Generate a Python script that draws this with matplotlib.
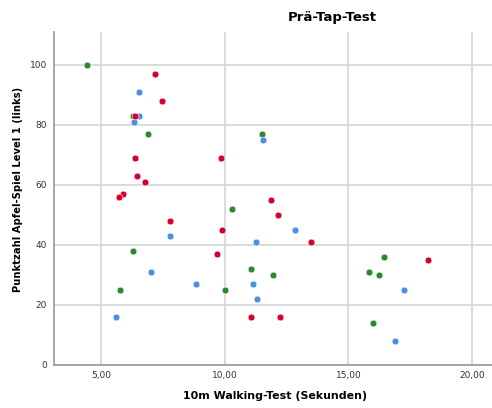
import numpy as np
import matplotlib
matplotlib.use('Agg')
import matplotlib.pyplot as plt

# 10m walking test (s) vs. score, by group
green_x = [4.43, 6.31, 6.91, 11.50, 10.28, 6.31, 5.77, 10.00, 11.05, 11.94, 15.82, 16.23, 16.42, 15.98]
green_y = [100, 83, 77, 77, 52, 38, 25, 25, 32, 30, 31, 30, 36, 14]

red_x = [7.19, 7.46, 6.37, 6.37, 9.84, 6.45, 6.78, 5.90, 5.73, 7.79, 9.90, 9.70,
         11.88, 12.14, 13.48, 18.21, 11.05, 12.22]
red_y = [97, 88, 83, 69, 69, 63, 61, 57, 56, 48, 45, 37, 55, 50, 41, 35, 16, 16]

blue_x = [6.55, 6.52, 6.33, 11.53, 7.79, 12.84, 11.27, 7.03, 8.85, 5.59, 11.13, 11.32, 17.23, 16.89]
blue_y = [91, 83, 81, 75, 43, 45, 41, 31, 27, 16, 27, 22, 25, 8]

xticks = [5, 10, 15, 20]
xtick_labels = ['5,00', '10,00', '15,00', '20,00']
yticks = [0, 20, 40, 60, 80, 100]

fig = plt.figure(figsize=(4.92, 4.08), dpi=100)
ax = fig.add_axes([0.1098, 0.1054, 0.8902, 0.8162])

for xs, ys, c in [(green_x, green_y, '#2a8a2a'),
                  (blue_x, blue_y, '#4a90e2'),
                  (red_x, red_y, '#d6002c')]:
    ax.scatter(xs, ys, s=24, color=c, edgecolors='white', linewidths=0.4, zorder=3)

ax.set_xlim(3.1, 20.8)
ax.set_ylim(0, 111)
ax.set_xticks(xticks)
ax.set_xticklabels(xtick_labels)
ax.set_yticks(yticks)
ax.grid(True, color='#d4d4d4', linewidth=1.2)
ax.set_axisbelow(True)
for s in ['top', 'right']:
    ax.spines[s].set_visible(False)
for s in ['left', 'bottom']:
    ax.spines[s].set_color('#999999')
    ax.spines[s].set_linewidth(1.2)
ax.tick_params(length=0, labelsize=6.5, colors='#333333')
ax.tick_params(axis='y', pad=5)
ax.tick_params(axis='x', pad=4)

ax.set_xlabel('10m Walking-Test (Sekunden)', fontsize=7.9, fontweight='bold')
ax.set_ylabel('Punktzahl Apfel-Spiel Level 1 (links)', fontsize=7.2, fontweight='bold')
ax.xaxis.set_label_coords(0.505, -0.093)
ax.yaxis.set_label_coords(-0.082, 0.528)
for lab in [ax.xaxis.label, ax.yaxis.label]:
    lab.set_verticalalignment('center')
fig.text(332 / 492, 1 - 18 / 408, 'Prä-Tap-Test', ha='center', va='center',
         fontsize=9.5, fontweight='bold')

fig.savefig('out.png', dpi=100)
